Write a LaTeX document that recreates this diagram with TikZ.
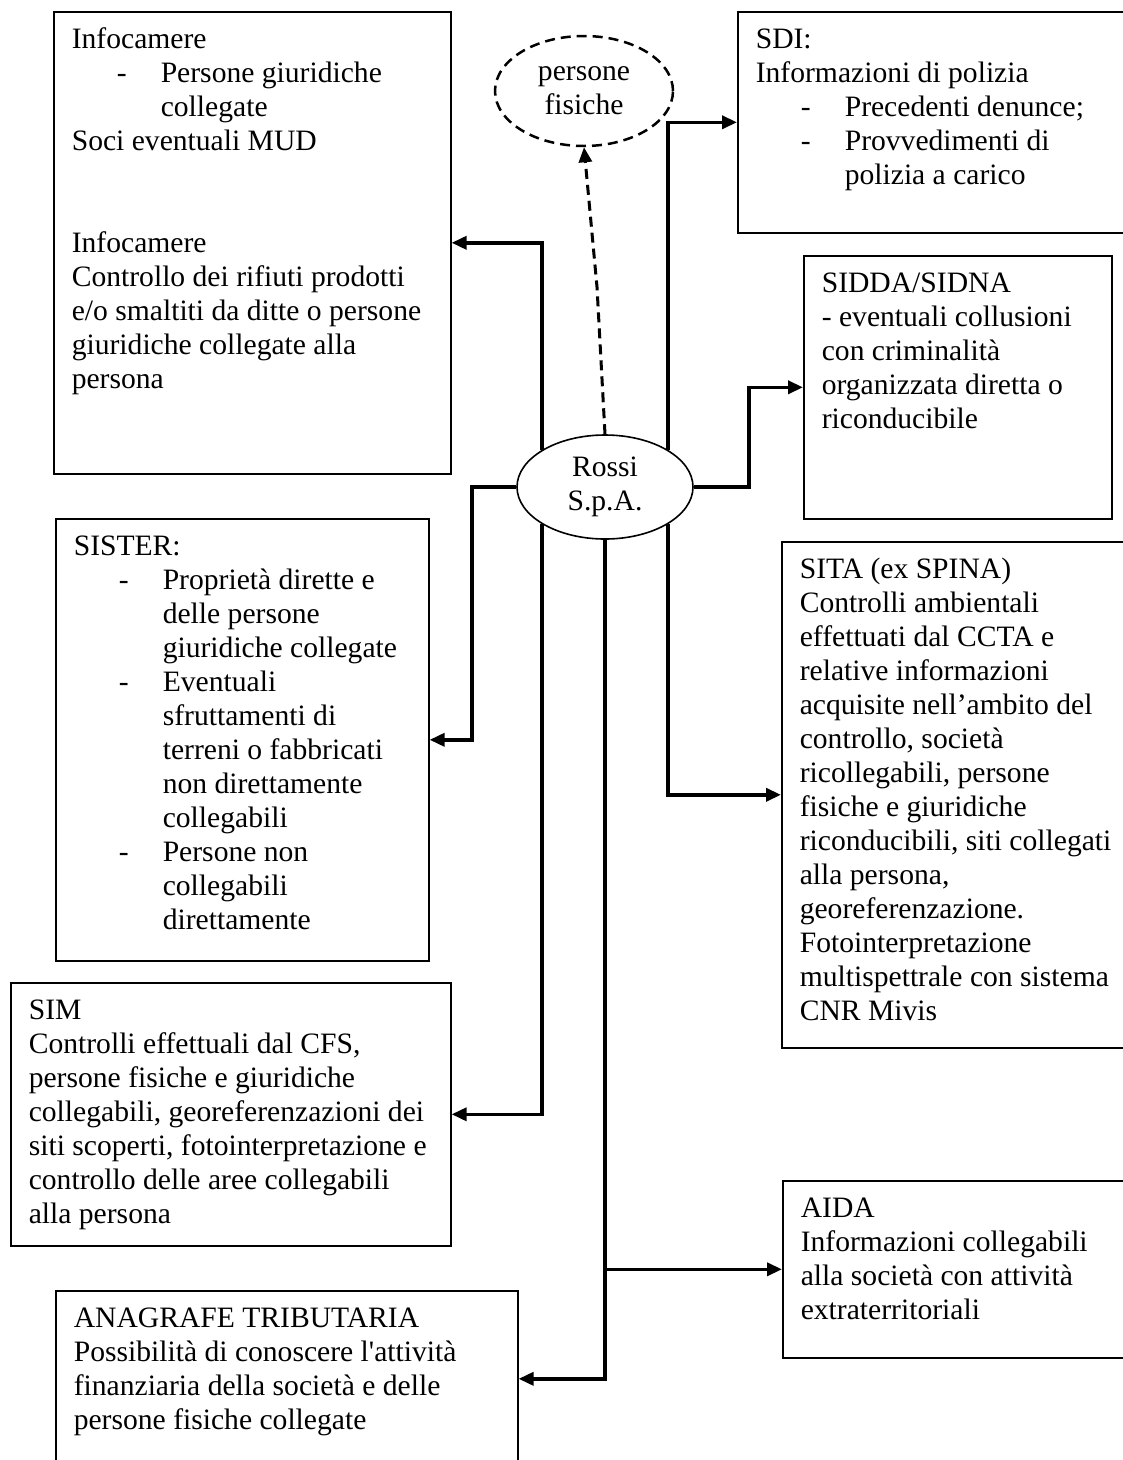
\documentclass[tikz,border=0pt]{standalone}
\usepackage{fontspec}
\setmainfont{Liberation Serif}
\usetikzlibrary{shapes.geometric, arrows.meta}
\tikzset{>={Triangle[length=15pt, width=13pt]}}
\tikzset{every node/.style={font=\fontsize{29.6}{34}\selectfont}}
\tikzset{
	infobox/.style={draw, line width=1.6pt, anchor=north west, inner xsep=18pt, inner ysep=13pt},
	bubble/.style={ellipse, draw, line width=1.6pt, inner sep=0pt, align=center},
	link/.style={->, line width=3.5pt},
}
\newcommand{\boxlines}[3]{\parbox[t][#2][t]{#1}{\begin{tabular}[t]{@{}l@{}}#3\end{tabular}}}
\newcommand{\dashitem}{\hspace*{45pt}\makebox[44pt][l]{-}}
\newcommand{\dashcont}{\hspace*{89pt}}

\begin{document}
\begin{tikzpicture}[x=1pt, y=-1pt]
\clip (0,0) rectangle (1123,1460);

% Centre
\node[bubble, minimum width=176pt, minimum height=104pt] (rossi) at (605,487) {\raisebox{-4pt}{\begin{tabular}{@{}c@{}}Rossi\\S.p.A.\end{tabular}}};
\node[bubble, dashed, dash pattern=on 10pt off 6pt, line width=2.5pt, minimum width=178pt, minimum height=110pt] (persone) at (584,91) {persone\\fisiche};

% Left column
\node[infobox] (infocamere) at (53,11) {\boxlines{361pt}{436pt}{
	Infocamere\\
	\dashitem Persone giuridiche\\
	\dashcont collegate\\
	Soci eventuali MUD\\[68pt]
	Infocamere\\
	Controllo dei rifiuti prodotti\\
	e/o smaltiti da ditte o persone\\
	giuridiche collegate alla\\
	persona}};

\node[infobox] (sister) at (55,518) {\boxlines{337pt}{416pt}{
	SISTER:\\
	\dashitem Proprietà dirette e\\
	\dashcont delle persone\\
	\dashcont giuridiche collegate\\
	\dashitem Eventuali\\
	\dashcont sfruttamenti di\\
	\dashcont terreni o fabbricati\\
	\dashcont non direttamente\\
	\dashcont collegabili\\
	\dashitem Persone non\\
	\dashcont collegabili\\
	\dashcont direttamente}};

\node[infobox] (sim) at (10,982) {\boxlines{404pt}{237pt}{
	SIM\\
	Controlli effettuali dal CFS,\\
	persone fisiche e giuridiche\\
	collegabili, georeferenzazioni dei\\
	siti scoperti, fotointerpretazione e\\
	controllo delle aree collegabili\\
	alla persona}};

\node[infobox] (anagrafe) at (55,1290) {\boxlines{426pt}{150pt}{
	ANAGRAFE TRIBUTARIA\\
	Possibilità di conoscere l\textquotesingle attività\\
	finanziaria della società e delle\\
	persone fisiche collegate}};

% Right column
\node[infobox] (sdi) at (737,11) {\boxlines{364pt}{195pt}{
	SDI:\\
	Informazioni di polizia\\
	\dashitem Precedenti denunce;\\
	\dashitem Provvedimenti di\\
	\dashcont polizia a carico}};

\node[infobox] (sidda) at (803,255) {\boxlines{272pt}{237pt}{
	SIDDA/SIDNA\\
	- eventuali collusioni\\
	con criminalità\\
	organizzata diretta o\\
	riconducibile}};

\node[infobox] (sita) at (781,541) {\boxlines{324pt}{480pt}{
	SITA (ex SPINA)\\
	Controlli ambientali\\
	effettuati dal CCTA e\\
	relative informazioni\\
	acquisite nell’ambito del\\
	controllo, società\\
	ricollegabili, persone\\
	fisiche e giuridiche\\
	riconducibili, siti collegati\\
	alla persona,\\
	georeferenzazione.\\
	Fotointerpretazione\\
	multispettrale con sistema\\
	CNR Mivis}};

\node[infobox] (aida) at (782,1180) {\boxlines{324pt}{151pt}{
	AIDA\\
	Informazioni collegabili\\
	alla società con attività\\
	extraterritoriali}};

% Connectors
\coordinate (bend) at (597,287);
\draw[link, dash pattern=on 10pt off 6pt, line width=3pt] (rossi.north) -- (bend) -- (persone.south);
\draw[link] (rossi.north west) |- (infocamere.east);
\draw[link] (rossi.north east) |- (sdi.west);
\draw[link] (rossi.east) -- ++(55,0) |- (sidda.west);
\draw[link] (rossi.west) -- ++(-44,0) |- (sister.east);
\draw[link] (rossi.south east) |- (sita.west);
\draw[link] (rossi.south west) |- (sim.east);
\draw[link] (rossi.south) |- (aida.west);
\draw[link] (rossi.south) |- (anagrafe.east);

\end{tikzpicture}
\end{document}
